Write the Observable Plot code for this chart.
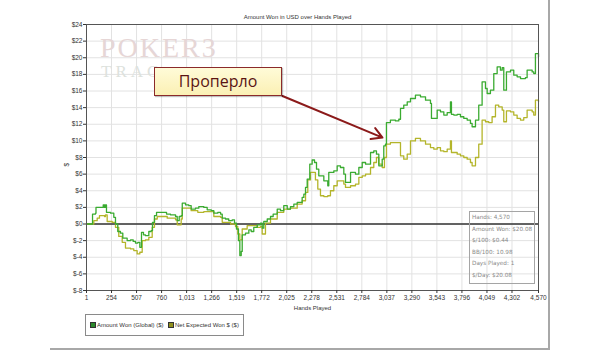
<!DOCTYPE html>
<html>
<head>
<meta charset="utf-8">
<script src="https://cdn.jsdelivr.net/npm/d3@7"></script>
<script src="https://cdn.jsdelivr.net/npm/@observablehq/plot@0.6"></script>
<style>
  body { margin: 0; background: #fff; }
  #wrap { position: relative; width: 600px; height: 351px; overflow: hidden; font-family: "Liberation Sans", Arial, sans-serif; }
  #chart { position: absolute; left: 0; top: 0; }
  .wm1 { position: absolute; left: 100px; top: 36px; line-height: 24px; font-family: "Liberation Serif", "DejaVu Serif", serif; font-size: 28px; color: #e6d6d6; letter-spacing: 2px; }
  .wm2 { position: absolute; left: 101px; top: 64px; line-height: 16px; font-family: "Liberation Serif", "DejaVu Serif", serif; font-size: 17px; color: #dde2dd; letter-spacing: 4px; white-space: nowrap; }
  .note { position: absolute; left: 154px; top: 67px; width: 126px; height: 27px; border: 1px solid #8b2a2a; background: linear-gradient(#fffbd8, #fbf0b4); box-shadow: 1px 1px 1px rgba(0,0,0,0.25); font-family: "Open Sans", "Noto Sans", sans-serif; font-size: 16px; color: #5a1414; text-align: center; line-height: 27px; }
  .stats { position: absolute; left: 469px; top: 211px; width: 62px; height: 71px; border: 1px solid #a5a5a5; font-family: "DejaVu Sans", Verdana, sans-serif; font-size: 5.7px; color: #8a8a8a; padding: 0 0 0 2px; }
  .stats div { height: 11.6px; line-height: 11.6px; white-space: nowrap; }
  .legend { position: absolute; left: 85px; top: 314px; width: 157px; height: 20px; border: 1px solid #8a8a8a; background: #fff; font-size: 6px; color: #333; }
  .legend span.sw { position: absolute; top: 7px; width: 4px; height: 4px; border: 1px solid #333; }
  .legend span.lb { position: absolute; top: 6px; white-space: nowrap; line-height: 8px; }
  .bR { position: absolute; left: 548px; top: 0; width: 2px; height: 350px; background: #a8a8a8; }
  .bB { position: absolute; left: 50px; top: 348px; width: 500px; height: 2px; background: #a8a8a8; }
</style>
</head>
<body>
<div id="wrap">
  <div id="chart"></div>
  <div class="wm1">POKER3</div>
  <div class="wm2">TRAC</div>
  <div class="note">Проперло</div>
  <div class="stats" id="stats"></div>
  <div class="legend" id="legend"></div>
  <div class="bR"></div>
  <div class="bB"></div>
</div>
<script>
// ---- data ----
const xTicks = [1, 254, 507, 760, 1013, 1266, 1519, 1772, 2025, 2278, 2531, 2784, 3037, 3290, 3543, 3796, 4049, 4302, 4570];
const yTicks = [-8, -6, -4, -2, 0, 2, 4, 6, 8, 10, 12, 14, 16, 18, 20, 22, 24];

const wonHands = [1, 59, 62, 92, 97, 125, 170, 183, 193, 203, 244, 277, 294, 317, 344, 368, 412, 446, 473, 496, 520, 540, 557, 577, 597, 631, 655, 668, 688, 709, 766, 810, 850, 901, 918, 938, 958, 969, 1002, 1035, 1059, 1103, 1136, 1187, 1221, 1262, 1288, 1328, 1356, 1373, 1406, 1439, 1474, 1497, 1517, 1537, 1551, 1565, 1575, 1608, 1642, 1666, 1692, 1727, 1760, 1777, 1793, 1828, 1861, 1888, 1929, 1962, 1995, 2030, 2063, 2097, 2131, 2181, 2198, 2215, 2232, 2258, 2282, 2306, 2326, 2349, 2400, 2440, 2450, 2501, 2535, 2568, 2602, 2619, 2670, 2720, 2754, 2788, 2822, 2872, 2905, 2932, 2956, 2990, 3006, 3023, 3033, 3073, 3124, 3158, 3175, 3208, 3243, 3276, 3326, 3377, 3428, 3478, 3488, 3512, 3546, 3579, 3613, 3647, 3680, 3690, 3714, 3748, 3781, 3815, 3849, 3882, 3899, 3933, 3966, 4000, 4034, 4051, 4084, 4118, 4152, 4185, 4203, 4219, 4246, 4287, 4320, 4354, 4388, 4438, 4455, 4506, 4522, 4539, 4570];
const wonValues = [0, 0, 1.2, 1.3, 2.0, 2.0, 2.3, 2.0, 2.3, 1.4, 1.3, 0.8, 0.0, -0.9, -1.1, -1.7, -2.0, -1.9, -2.1, -2.3, -2.2, -2.8, -1.0, -1.3, -1.4, -0.9, -0.8, 0.2, 1.0, 1.4, 1.4, 1.2, 1.1, 0.9, 0.4, 0.9, 1.0, 2.5, 2.3, 2.2, 1.8, 1.9, 2.1, 2.0, 1.7, 1.6, 1.3, 1.4, 1.2, 0.7, 0.6, 0.4, 0.5, 0.1, -0.6, -2.0, -3.8, -3.3, -1.3, -1.1, -0.7, -0.9, -0.4, -0.1, 0.1, -0.5, 0.3, 0.6, 0.9, 1.2, 1.8, 1.6, 2.2, 1.8, 2.1, 2.4, 2.6, 3.2, 3.6, 4.4, 5.4, 7.2, 7.7, 7.4, 6.6, 5.8, 5.2, 4.6, 6.2, 6.4, 7.0, 6.8, 6.0, 5.0, 6.2, 6.0, 6.8, 7.4, 7.2, 8.6, 8.8, 8.4, 7.0, 7.8, 9.4, 9.6, 12.2, 12.5, 12.4, 12.6, 13.9, 14.3, 14.7, 15.1, 15.5, 15.3, 14.9, 14.5, 12.7, 12.7, 13.7, 13.5, 13.1, 13.4, 14.7, 13.2, 13.1, 13.2, 12.9, 12.7, 12.5, 12.1, 11.7, 12.5, 14.3, 17.1, 16.3, 15.7, 16.1, 18.1, 18.9, 18.5, 18.8, 16.1, 18.3, 18.5, 17.9, 17.7, 17.5, 17.6, 18.5, 18.3, 18.1, 20.5, 20.1];

const evHands = [1, 59, 75, 109, 132, 183, 193, 210, 261, 294, 327, 362, 395, 446, 479, 513, 540, 564, 597, 631, 665, 688, 716, 817, 901, 918, 958, 969, 1059, 1126, 1187, 1288, 1356, 1373, 1457, 1507, 1530, 1551, 1575, 1625, 1692, 1727, 1760, 1777, 1810, 1861, 1929, 1995, 2063, 2131, 2181, 2215, 2238, 2265, 2292, 2315, 2339, 2366, 2400, 2440, 2467, 2501, 2535, 2568, 2602, 2619, 2670, 2720, 2754, 2788, 2822, 2872, 2905, 2932, 2956, 2990, 3013, 3033, 3073, 3154, 3175, 3208, 3243, 3276, 3326, 3377, 3428, 3478, 3512, 3546, 3579, 3613, 3647, 3680, 3690, 3748, 3781, 3815, 3849, 3882, 3899, 3933, 3966, 4000, 4034, 4067, 4101, 4135, 4168, 4203, 4219, 4246, 4287, 4320, 4354, 4388, 4421, 4455, 4506, 4522, 4539, 4570];
const evValues = [0, 0, 0.4, 0.7, 1.0, 0.9, 1.1, 0.3, 0.2, -0.4, -1.5, -2.2, -2.9, -3.0, -3.2, -3.6, -3.4, -2.0, -1.9, -1.6, -0.4, 0.6, 0.9, 0.7, 0.5, -0.1, 0.6, 1.9, 1.6, 1.4, 1.5, 0.9, 0.8, 0.2, 0.0, -0.3, -1.2, -1.9, -0.6, -0.2, -0.2, -0.4, -0.3, -1.2, 0.1, 0.6, 1.4, 1.8, 1.9, 2.4, 2.8, 3.8, 5.3, 6.2, 6.2, 5.3, 4.2, 3.4, 3.3, 3.4, 4.0, 4.6, 5.2, 5.2, 4.8, 4.4, 4.6, 4.8, 5.6, 5.8, 6.0, 6.8, 7.4, 8.0, 7.2, 6.8, 8.0, 9.6, 9.8, 9.8, 8.2, 7.8, 8.4, 10.0, 10.3, 10.0, 9.6, 9.2, 9.0, 9.2, 8.8, 8.7, 9.0, 10.0, 8.6, 8.4, 8.2, 8.0, 7.8, 7.4, 7.0, 8.0, 9.6, 12.5, 12.3, 12.2, 12.9, 14.3, 14.1, 13.7, 12.3, 13.6, 13.5, 13.1, 12.7, 12.5, 12.8, 13.7, 13.5, 13.1, 14.9, 14.7];

const seriesNames = ["Amount Won (Global) ($)", "Net Expected Won $ ($)"];
const seriesColors = ["#3aab30", "#b4b52a"];
const swatchColors = ["#2c8a2c", "#8f8f1c"];
const statsLines = ["Hands: 4,570", "Amount Won: $20.08", "$/100: $0.44", "BB/100: 10.98", "Days Played: 1", "$/Day: $20.08"];
const titleText = "Amount Won in USD over Hands Played";
const arrowFrom = [1982, 15.4];
const arrowTo = [2993, 10.4];

// ---- build tables ----
const won = wonHands.map((h, i) => ({hands: h, value: wonValues[i]}));
const ev = evHands.map((h, i) => ({hands: h, value: evValues[i]}));
const fmtY = d => d < 0 ? "$-" + Math.abs(d) : "$" + d;

const chart = Plot.plot({
  width: 600,
  height: 318,
  marginLeft: 86,
  marginRight: 62,
  marginTop: 24,
  marginBottom: 28,
  style: {fontSize: "6.5px", fontFamily: "'Liberation Sans', Arial, sans-serif", background: "transparent", color: "#333"},
  x: {domain: [1, 4570]},
  y: {domain: [-8, 24]},
  marks: [
    Plot.gridX(xTicks, {stroke: "#e2e2e2", strokeOpacity: 1}),
    Plot.gridY(yTicks, {stroke: "#e2e2e2", strokeOpacity: 1}),
    Plot.ruleY([0], {stroke: "#333", strokeWidth: 1.3}),
    Plot.line(ev, {x: "hands", y: "value", curve: "step-after", stroke: seriesColors[1], strokeWidth: 1.3}),
    Plot.line(won, {x: "hands", y: "value", curve: "step-after", stroke: seriesColors[0], strokeWidth: 1.3}),
    Plot.arrow([{x1: arrowFrom[0], y1: arrowFrom[1], x2: arrowTo[0], y2: arrowTo[1]}],
      {x1: "x1", y1: "y1", x2: "x2", y2: "y2", stroke: "#8b1a1a", strokeWidth: 2, headLength: 9}),
    Plot.frame({stroke: "#555"}),
    Plot.axisX({ticks: xTicks, tickFormat: d3.format(","), tickSize: 3, tickPadding: 2, label: null}),
    Plot.axisY({ticks: yTicks, tickFormat: fmtY, tickSize: 3, tickPadding: 1, label: null}),
    Plot.text([titleText], {frameAnchor: "top", dx: -15, dy: -10, fontSize: 6}),
    Plot.text(["Hands Played"], {frameAnchor: "bottom", dy: 19, fontSize: 6}),
    Plot.text(["$"], {frameAnchor: "left", dx: -20, dy: 9, rotate: -90, fontSize: 6.5})
  ]
});
document.getElementById("chart").appendChild(chart);

// stats box
const stats = document.getElementById("stats");
statsLines.forEach(t => { const d = document.createElement("div"); d.textContent = t; stats.appendChild(d); });

// legend
const legend = document.getElementById("legend");
const lx = [[4, 11], [82, 89]];
seriesNames.forEach((n, i) => {
  const sw = document.createElement("span");
  sw.className = "sw"; sw.style.left = lx[i][0] + "px"; sw.style.background = swatchColors[i];
  const lb = document.createElement("span");
  lb.className = "lb"; lb.style.left = lx[i][1] + "px"; lb.textContent = n;
  legend.appendChild(sw); legend.appendChild(lb);
});
</script>
</body>
</html>
